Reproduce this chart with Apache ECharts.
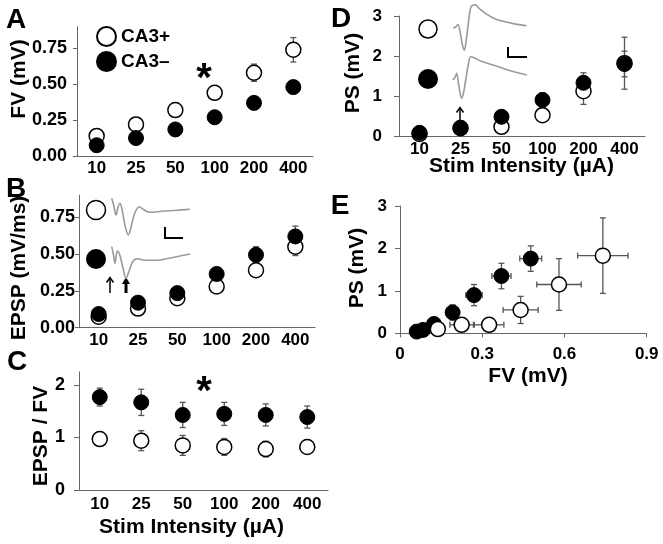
<!DOCTYPE html>
<html><head><meta charset="utf-8">
<script src="https://cdn.jsdelivr.net/npm/echarts@6/dist/echarts.min.js"></script>
<style>html,body{margin:0;padding:0;background:#fff}#c{width:663px;height:544px}</style>
</head><body><div id="c"></div>
<script>
// ---------- data ----------
const stimLabels = ['10','25','50','100','200','400'];
// A: fiber volley (mV)
const fvPlus = [0.14,0.22,0.32,0.44,0.58,0.74];
const fvPlusErr = [0.02,0.02,0.02,0.03,0.06,0.085];
const fvMinus = [0.075,0.125,0.185,0.27,0.37,0.48];
const fvMinusErr = [0.01,0.01,0.015,0.02,0.02,0.02];
// B: EPSP slope (mV/ms)
const epspPlus = [0.075,0.13,0.2,0.28,0.39,0.55];
const epspPlusErr = [0.02,0.02,0.02,0.02,0.03,0.06];
const epspMinus = [0.093,0.17,0.235,0.365,0.495,0.62];
const epspMinusErr = [0.02,0.02,0.03,0.03,0.055,0.07];
// C: EPSP / FV
const ratioPlus = [0.97,0.94,0.85,0.82,0.78,0.82];
const ratioPlusErr = [0.07,0.19,0.19,0.16,0.15,0.12];
const ratioMinus = [1.77,1.67,1.43,1.45,1.43,1.39];
const ratioMinusErr = [0.17,0.25,0.24,0.22,0.21,0.21];
// D: population spike (mV)
const psPlus = [0.05,0.2,0.23,0.52,1.12,1.82];
const psPlusErr = [0.02,0.05,0.05,0.1,0.33,0.65];
const psMinus = [0.08,0.19,0.48,0.9,1.33,1.8];
const psMinusErr = [0.03,0.05,0.08,0.18,0.25,0.32];
// E: PS vs FV
const eFvPlus = [0.138,0.225,0.325,0.44,0.58,0.74];
const eFvPlusErr = [0.01,0.043,0.054,0.064,0.081,0.092];
const ePsPlus = [0.1,0.2,0.2,0.55,1.15,1.83];
const ePsPlusErr = [0.03,0.05,0.06,0.32,0.61,0.89];
const eFvMinus = [0.061,0.084,0.124,0.192,0.27,0.37,0.477];
const eFvMinusErr = [0.01,0.01,0.01,0.02,0.03,0.035,0.04];
const ePsMinus = [0.04,0.08,0.22,0.49,0.9,1.35,1.76];
const ePsMinusErr = [0.02,0.03,0.05,0.18,0.25,0.3,0.3];
// tick labels
const ticksAB = [0,0.25,0.5,0.75];
const ticksC = [0,1,2];
const ticksD = [0,1,2,3];
const ticksEx = [0,0.3,0.6,0.9];
const ticksEy = [0,1,2,3];
// inset waveforms (time, relative amplitude)
const wBPlusT = [0,2,4.3,6.3,8.3,10.5,13.5,16.6,19.5,23,27.6,32,38.3,50,65,78.3];
const wBPlusV = [0,-7,-16.7,-9,-5,-12,-28,-36.7,-28,-15,-8.4,-11.5,-14,-13,-12,-11];
const wBMinusT = [0,1.7,3.3,5.6,8,11,14.3,17.5,21.6,26,31.3,40,48.3,60,78.3];
const wBMinusV = [0,-8,-16.6,-4.3,-8,-20,-31.6,-24,-14,-12,-13.3,-13.5,-13.3,-11,-7.3];
const wDPlusT = [0,3,4.7,7,9,11,13,15,17.7,21.7,26,33.3,40,46.7,60,73.3];
const wDPlusV = [0,2,4,-5,-17,-23.3,-12,5,22.7,25,21,15,11,8.3,5,2.7];
const wDMinusT = [0,2.5,4,6,9,11,13,15.5,18,22,28,40.6,55,74];
const wDMinusV = [0,3,6.7,-5,-18.3,-12,0,15,23.3,22,19,15,10,5];

// ---------- helpers ----------
const FF = '"Liberation Sans", Arial, Helvetica, sans-serif';
const AXC = '#666';
const ERC = '#555';
const zip = (a,b) => a.map((v,i)=>[v,b[i]]);
const catErr = (v,e) => v.map((x,i)=>[i, x-e[i], x+e[i]]);
function vErr(params, api){
  const x = api.value(0), lo = api.value(1), hi = api.value(2);
  const p1 = api.coord([x,hi]), p2 = api.coord([x,lo]);
  const cw = 3, st = {stroke:ERC, lineWidth:1.3};
  return {type:'group', children:[
    {type:'line', shape:{x1:p1[0],y1:p1[1],x2:p2[0],y2:p2[1]}, style:st},
    {type:'line', shape:{x1:p1[0]-cw,y1:p1[1],x2:p1[0]+cw,y2:p1[1]}, style:st},
    {type:'line', shape:{x1:p2[0]-cw,y1:p2[1],x2:p2[0]+cw,y2:p2[1]}, style:st}
  ]};
}
function xyErr(params, api){
  const x = api.value(0), y = api.value(1);
  const xl = api.value(2), xh = api.value(3), yl = api.value(4), yh = api.value(5);
  const a = api.coord([xl,y]), b = api.coord([xh,y]), c = api.coord([x,yl]), d = api.coord([x,yh]);
  const cw = 3, st = {stroke:ERC, lineWidth:1.3};
  return {type:'group', children:[
    {type:'line', shape:{x1:a[0],y1:a[1],x2:b[0],y2:b[1]}, style:st},
    {type:'line', shape:{x1:a[0],y1:a[1]-cw,x2:a[0],y2:a[1]+cw}, style:st},
    {type:'line', shape:{x1:b[0],y1:b[1]-cw,x2:b[0],y2:b[1]+cw}, style:st},
    {type:'line', shape:{x1:c[0],y1:c[1],x2:d[0],y2:d[1]}, style:st},
    {type:'line', shape:{x1:c[0]-cw,y1:c[1],x2:c[0]+cw,y2:c[1]}, style:st},
    {type:'line', shape:{x1:d[0]-cw,y1:d[1],x2:d[0]+cw,y2:d[1]}, style:st}
  ]};
}
const xyErrData = (xs,xe,ys,ye) => xs.map((x,i)=>[x, ys[i], x-xe[i], x+xe[i], ys[i]-ye[i], ys[i]+ye[i]]);

const openStyle = {color:'#fff', borderColor:'#000', borderWidth:1.5, opacity:1};
const fillStyle = {color:'#000', borderColor:'#000', borderWidth:1, opacity:1};
const labelFont = (size) => ({fontSize:size, fontWeight:'bold', color:'#000', fontFamily:FF});

function catX(grid, margin){
  return {type:'category', gridIndex:grid, data:stimLabels, boundaryGap:true,
    axisLine:{lineStyle:{color:AXC, width:1}}, axisTick:{show:false},
    axisLabel:Object.assign({margin:margin, interval:0}, labelFont(17)), splitLine:{show:false}};
}
function valY(grid, max, interval, ticks, fmt, margin, size, tickLen){
  return {type:'value', gridIndex:grid, min:0, max:max, interval:interval,
    axisLine:{show:true, lineStyle:{color:AXC, width:1}},
    axisTick:{show:true, length:tickLen, lineStyle:{color:AXC}, customValues:ticks},
    axisLabel:Object.assign({margin:margin, customValues:ticks, formatter:fmt}, labelFont(size)),
    splitLine:{show:false}};
}
function hiddenAx(grid, min, max){
  return {type:'value', gridIndex:grid, min:min, max:max, show:false, splitLine:{show:false}};
}

function scatter(name, x, y, data, style, z){
  return {type:'scatter', name:name, xAxisIndex:x, yAxisIndex:y, data:data, symbol:'circle',
    symbolSize:15, itemStyle:style, z:z, silent:true};
}
function errS(x, y, data){
  return {type:'custom', xAxisIndex:x, yAxisIndex:y, data:data, renderItem:vErr,
    encode:{x:0, y:[1,2]}, z:1, silent:true};
}
function trace(idx, t, v){
  return {type:'line', xAxisIndex:idx, yAxisIndex:idx, data:zip(t,v), symbol:'none',
    smooth:0.35, lineStyle:{color:'#9a9a9a', width:1.6}, z:1, silent:true, clip:false};
}

const T = (text, x, y, size, rot) => ({type:'text', x:x, y:y, rotation:rot||0, silent:true,
  style:{text:text, font:'bold '+size+'px '+FF, fill:'#000', align:'center', verticalAlign:'middle'}});
const line = (pts, w) => ({type:'polyline', silent:true, shape:{points:pts}, style:{stroke:'#000', lineWidth:w, fill:null}});

const grids = [
  {left:77, top:26.8, width:236, height:129.2},   // A
  {left:79, top:195.2, width:236, height:132.5},  // B
  {left:79, top:371.9, width:249, height:118.1},  // C
  {left:399, top:16, width:246, height:120},      // D
  {left:400, top:206, width:246.7, height:127.3}, // E
  {left:111.7, top:188.3, width:80, height:50},   // B inset +
  {left:111.7, top:236.7, width:80, height:50},   // B inset -
  {left:453.3, top:-3.3, width:75, height:60},    // D inset +
  {left:452.7, top:50, width:75, height:60}       // D inset -
];

const f2 = v => v.toFixed(2);
const f0 = v => String(Math.round(v));
const fE = v => v === 0 ? '0' : v.toFixed(1);

const xAxes = [
  catX(0,4), catX(1,4), catX(2,6), catX(3,5),
  {type:'value', gridIndex:4, min:0, max:0.9, interval:0.3,
    axisLine:{lineStyle:{color:AXC}}, axisTick:{show:true, length:4, lineStyle:{color:AXC}, customValues:ticksEx},
    axisLabel:Object.assign({margin:13, customValues:ticksEx, formatter:fE}, labelFont(17)), splitLine:{show:false}},
  hiddenAx(5,0,80), hiddenAx(6,0,80), hiddenAx(7,0,75), hiddenAx(8,0,75)
];
const yAxes = [
  valY(0, 0.9, 0.25, ticksAB, f2, 10, 18, 4),
  valY(1, 0.9, 0.25, ticksAB, f2, 4, 18, 4),
  valY(2, 2.25, 1, ticksC, f0, 14, 18, 5),
  valY(3, 3, 1, ticksD, f0, 17, 17, 5),
  valY(4, 3, 1, ticksEy, f0, 13, 17, 5),
  hiddenAx(5,-40,10), hiddenAx(6,-40,10), hiddenAx(7,-30,30), hiddenAx(8,-30,30)
];

const series = [
  // A
  errS(0,0,catErr(fvPlus,fvPlusErr)), errS(0,0,catErr(fvMinus,fvMinusErr)),
  scatter('CA3+',0,0,fvPlus,openStyle,3), scatter('CA3–',0,0,fvMinus,fillStyle,4),
  // B
  errS(1,1,catErr(epspPlus,epspPlusErr)), errS(1,1,catErr(epspMinus,epspMinusErr)),
  scatter('CA3+',1,1,epspPlus,openStyle,3), scatter('CA3–',1,1,epspMinus,fillStyle,4),
  // C
  errS(2,2,catErr(ratioPlus,ratioPlusErr)), errS(2,2,catErr(ratioMinus,ratioMinusErr)),
  scatter('CA3+',2,2,ratioPlus,openStyle,3), scatter('CA3–',2,2,ratioMinus,fillStyle,4),
  // D
  errS(3,3,catErr(psPlus,psPlusErr)), errS(3,3,catErr(psMinus,psMinusErr)),
  scatter('CA3+',3,3,psPlus,openStyle,3), scatter('CA3–',3,3,psMinus,fillStyle,4),
  // E
  {type:'custom', xAxisIndex:4, yAxisIndex:4, data:xyErrData(eFvMinus,eFvMinusErr,ePsMinus,ePsMinusErr),
    renderItem:xyErr, encode:{x:[0,2,3], y:[1,4,5]}, z:1, silent:true},
  {type:'custom', xAxisIndex:4, yAxisIndex:4, data:xyErrData(eFvPlus,eFvPlusErr,ePsPlus,ePsPlusErr),
    renderItem:xyErr, encode:{x:[0,2,3], y:[1,4,5]}, z:1, silent:true},
  scatter('CA3–',4,4,zip(eFvMinus,ePsMinus),fillStyle,3),
  scatter('CA3+',4,4,zip(eFvPlus,ePsPlus),openStyle,4),
  // insets
  trace(5,wBPlusT,wBPlusV), trace(6,wBMinusT,wBMinusV),
  trace(7,wDPlusT,wDPlusV), trace(8,wDMinusT,wDMinusV)
];

const graphic = [
  T('A',16,20,28), T('B',16,189,28), T('C',17,362,28), T('D',341,19,28), T('E',340,206,28),
  T('*',204,80,40), T('*',204,393,40),
  T('FV (mV)',19,79,21,Math.PI/2),
  T('EPSP (mV/ms)',19,268,21,Math.PI/2),
  T('EPSP / FV',41,436,21,Math.PI/2),
  T('PS (mV)',353,73,21,Math.PI/2),
  T('PS (mV)',357,268,21,Math.PI/2),
  T('Stim Intensity (µA)',191.5,527,21),
  T('Stim Intensity (µA)',521.5,166,21),
  T('FV (mV)',528,376,21),
  // inset symbols
  {type:'circle', silent:true, shape:{cx:96,cy:210,r:9.5}, style:{fill:'#fff',stroke:'#000',lineWidth:1.5}},
  {type:'circle', silent:true, shape:{cx:96,cy:259,r:10}, style:{fill:'#000'}},
  {type:'circle', silent:true, shape:{cx:428,cy:29,r:9}, style:{fill:'#fff',stroke:'#000',lineWidth:1.5}},
  {type:'circle', silent:true, shape:{cx:428,cy:79,r:10}, style:{fill:'#000'}},
  // scale bars
  line([[165,227],[165,238],[183,238]],2),
  line([[508,47],[508,57],[527,57]],2),
  // arrows
  line([[110,293],[110,278]],1.5), line([[106.5,282.5],[110,277.5],[113.5,282.5]],1.5),
  {type:'rect', silent:true, shape:{x:124.5,y:283,width:3,height:10}, style:{fill:'#000'}},
  {type:'polygon', silent:true, shape:{points:[[122,284],[126,277],[130,284]]}, style:{fill:'#000'}},
  line([[460,125],[460,108]],1.5), line([[456.5,112.5],[460,107.5],[463.5,112.5]],1.5)
];

const chart = echarts.init(document.getElementById('c'), null, {renderer:'canvas'});
chart.setOption({
  animation:false,
  backgroundColor:'#fff',
  textStyle:{fontFamily:FF},
  legend:{data:['CA3+','CA3–'], orient:'vertical', left:91, top:21, itemWidth:19, itemHeight:19, itemGap:4,
    icon:'circle', selectedMode:false, textStyle:{fontSize:19, fontWeight:'bold', color:'#000', fontFamily:FF}},
  grid:grids, xAxis:xAxes, yAxis:yAxes, series:series, graphic:graphic
});
</script></body></html>
